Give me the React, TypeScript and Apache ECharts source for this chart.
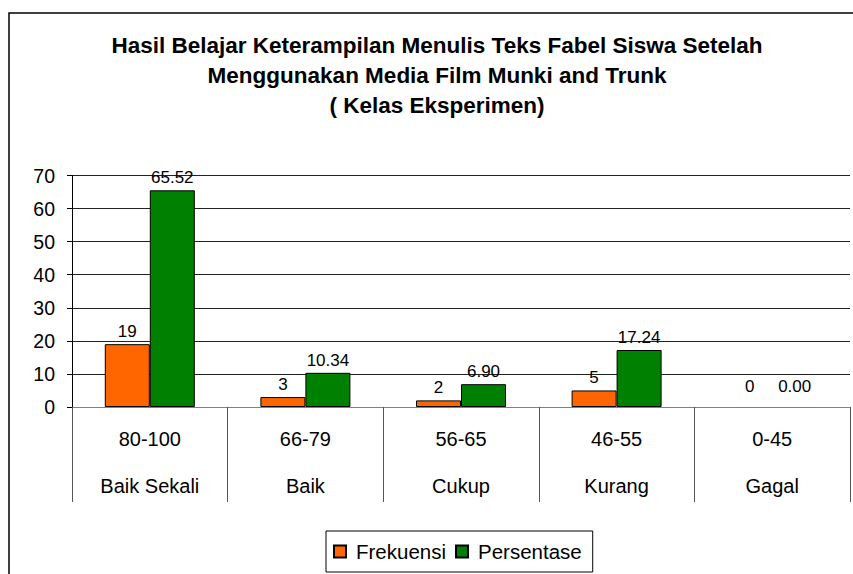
import React, { useEffect, useRef } from "react";
import * as echarts from "echarts";

const rangeLabels = ["80-100", "66-79", "56-65", "46-55", "0-45"];
const gradeLabels = ["Baik Sekali", "Baik", "Cukup", "Kurang", "Gagal"];
const frekuensi = [19, 3, 2, 5, 0];
const persentase = [65.52, 10.34, 6.9, 17.24, 0.0];
const yTicks = { min: 0, max: 70, interval: 10 };
const titleLines = [
  "Hasil Belajar Keterampilan Menulis Teks Fabel Siswa Setelah",
  "Menggunakan Media Film Munki and Trunk",
  "( Kelas Eksperimen)",
];

const FONT = '"Liberation Sans", Arial, sans-serif';

const toData = (arr: number[]) =>
  arr.map((v) =>
    v === 0
      ? { value: v, label: { distance: 12 }, itemStyle: { borderWidth: 0 } }
      : { value: v }
  );

export default function App() {
  const ref = useRef<HTMLDivElement>(null);
  useEffect(() => {
    if (!ref.current) return;
    const chart = echarts.init(ref.current, null, { renderer: "svg" });
    const categories = rangeLabels.map((r, i) => `${r}\n${gradeLabels[i]}`);
    chart.setOption({
      animation: false,
      backgroundColor: "#fff",
      textStyle: { fontFamily: FONT },
      title: {
        text: titleLines.join("\n"),
        left: 437,
        top: 30,
        padding: 0,
        textAlign: "center",
        textStyle: {
          fontFamily: FONT,
          fontSize: 22.5,
          fontWeight: "bold",
          color: "#000",
          lineHeight: 30,
        },
      },
      graphic: [
        {
          type: "rect",
          shape: { x: 9, y: 13, width: 900, height: 600 },
          style: { fill: "none", stroke: "#000", lineWidth: 1.5 },
          z: -1,
          silent: true,
        },
      ],
      legend: {
        data: ["Frekuensi", "Persentase"],
        left: 326,
        top: 531,
        orient: "horizontal",
        itemWidth: 12,
        itemHeight: 12,
        itemGap: 9,
        borderColor: "#000",
        borderWidth: 1,
        padding: [10, 11, 10, 7],
        icon: "rect",
        textStyle: { fontFamily: FONT, fontSize: 20.5, color: "#000", padding: [0, 0, 0, 5] },
      },
      grid: { left: 72, right: 3, top: 175.5, bottom: 167, containLabel: false },
      xAxis: {
        type: "category",
        data: categories,
        axisLine: { show: true, lineStyle: { color: "#808080", width: 1 } },
        axisTick: {
          show: true,
          interval: 0,
          length: 95,
          lineStyle: { color: "#555", width: 1 },
        },
        axisLabel: {
          interval: 0,
          margin: 8,
          fontFamily: FONT,
          fontSize: 20,
          color: "#000",
          lineHeight: 47,
        },
        splitLine: { show: false },
      },
      yAxis: {
        type: "value",
        min: yTicks.min,
        max: yTicks.max,
        interval: yTicks.interval,
        axisLine: { show: true, lineStyle: { color: "#000", width: 1 } },
        axisTick: { show: true, length: 5, lineStyle: { color: "#000" } },
        axisLabel: { margin: 17, fontFamily: FONT, fontSize: 19.5, color: "#000" },
        splitLine: { show: true, lineStyle: { color: "#222", width: 1 } },
      },
      series: [
        {
          name: "Frekuensi",
          type: "bar",
          data: toData(frekuensi),
          barWidth: 45,
          barGap: "0%",
          itemStyle: { color: "#FF6600", borderColor: "#000", borderWidth: 1 },
          label: {
            show: true,
            position: "top",
            distance: 4,
            fontFamily: FONT,
            fontSize: 17,
            color: "#000",
            formatter: (p: any) => String(p.value),
          },
        },
        {
          name: "Persentase",
          type: "bar",
          data: toData(persentase),
          barWidth: 45,
          barGap: "0%",
          itemStyle: { color: "#008000", borderColor: "#000", borderWidth: 1 },
          label: {
            show: true,
            position: "top",
            distance: 4,
            fontFamily: FONT,
            fontSize: 17,
            color: "#000",
            formatter: (p: any) => Number(p.value).toFixed(2),
          },
        },
      ],
    });
    return () => chart.dispose();
  }, []);
  return (
    <div
      ref={ref}
      style={{ position: "fixed", left: 0, top: 0, width: 853, height: 574, background: "#fff" }}
    />
  );
}
